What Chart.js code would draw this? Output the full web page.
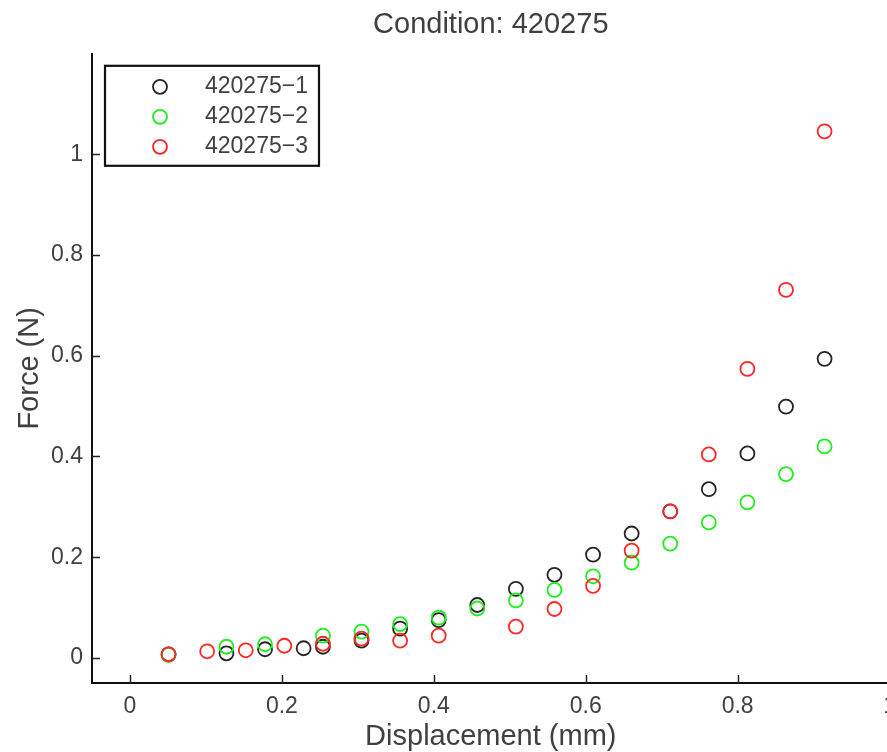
<!DOCTYPE html>
<html>
<head>
<meta charset="utf-8">
<title>Condition: 420275</title>
<script src="https://cdn.jsdelivr.net/npm/chart.js@4.4.1/dist/chart.umd.min.js"></script>
<style>
  html, body { margin: 0; padding: 0; background: #fff; overflow: hidden; }
  #wrap { width: 906px; height: 752px; }
</style>
</head>
<body>
<div id="wrap"><canvas id="chart"></canvas></div>
<script>
// tick positions on both axes
const xTicks = [0, 0.2, 0.4, 0.6, 0.8, 1];
const yTicks = [0, 0.2, 0.4, 0.6, 0.8, 1];

// 420275-1 (black)
const disp1  = [0.0508, 0.127, 0.1778, 0.2286, 0.254, 0.3048, 0.3556, 0.4064, 0.4572, 0.508, 0.5588, 0.6096, 0.6604, 0.7112, 0.762, 0.8128, 0.8636, 0.9144];
const force1 = [0.007, 0.009, 0.017, 0.019, 0.022, 0.034, 0.058, 0.075, 0.105, 0.137, 0.165, 0.205, 0.247, 0.291, 0.335, 0.406, 0.499, 0.594];

// 420275-2 (green)
const disp2  = [0.0508, 0.127, 0.1778, 0.254, 0.3048, 0.3556, 0.4064, 0.4572, 0.508, 0.5588, 0.6096, 0.6604, 0.7112, 0.762, 0.8128, 0.8636, 0.9144];
const force2 = [0.006, 0.022, 0.027, 0.044, 0.052, 0.067, 0.080, 0.098, 0.114, 0.135, 0.162, 0.189, 0.227, 0.269, 0.309, 0.365, 0.420];

// 420275-3 (red)
const disp3  = [0.0508, 0.1016, 0.1524, 0.2032, 0.254, 0.3048, 0.3556, 0.4064, 0.508, 0.5588, 0.6096, 0.6604, 0.7112, 0.762, 0.8128, 0.8636, 0.9144];
const force3 = [0.007, 0.013, 0.015, 0.024, 0.028, 0.038, 0.034, 0.044, 0.062, 0.097, 0.143, 0.213, 0.291, 0.404, 0.574, 0.731, 1.046];

const labels = ['420275-1', '420275-2', '420275-3'];
const colors = ['#252525', '#1fee1f', '#ff2626'];

const FONT = '"Liberation Sans", Arial, Helvetica, sans-serif';
const TEXT = '#404040';

function pts(xs, ys) {
  return xs.map((x, i) => ({ x: x, y: ys[i] }));
}

function serie(i, xs, ys) {
  return {
    label: labels[i],
    data: pts(xs, ys),
    showLine: false,
    pointStyle: 'circle',
    pointRadius: 7,
    pointHoverRadius: 7,
    pointBorderWidth: 1.8,
    pointBorderColor: colors[i],
    pointBackgroundColor: 'rgba(0,0,0,0)',
    borderColor: colors[i],
    backgroundColor: 'rgba(0,0,0,0)',
    order: 3 - i, // later series on top, like MATLAB
  };
}

// MATLAB-style ticks pointing into the plot
const innerTicks = {
  id: 'innerTicks',
  afterDatasetsDraw(chart) {
    const { ctx, chartArea, scales } = chart;
    ctx.save();
    ctx.strokeStyle = '#222';
    ctx.lineWidth = 1.5;
    ctx.beginPath();
    xTicks.forEach(v => {
      const px = Math.round(scales.x.getPixelForValue(v)) + 0.5;
      ctx.moveTo(px, chartArea.bottom);
      ctx.lineTo(px, chartArea.bottom - 8);
    });
    yTicks.forEach(v => {
      const py = Math.round(scales.y.getPixelForValue(v)) + 0.5;
      ctx.moveTo(chartArea.left, py);
      ctx.lineTo(chartArea.left + 8, py);
    });
    ctx.stroke();
    ctx.restore();
  }
};

// boxed legend in the upper left corner
const boxLegend = {
  id: 'boxLegend',
  afterDraw(chart) {
    const { ctx, chartArea } = chart;
    const bx = chartArea.left + 13, by = chartArea.top + 12;
    const bw = 214, bh = 100;
    ctx.save();
    ctx.fillStyle = '#fff';
    ctx.fillRect(bx, by, bw, bh);
    ctx.strokeStyle = '#111';
    ctx.lineWidth = 2.2;
    ctx.strokeRect(bx, by, bw, bh);
    ctx.font = '23px ' + FONT;
    ctx.textBaseline = 'middle';
    chart.data.datasets.forEach((ds, i) => {
      const cy = by + 21 + i * 30;
      ctx.beginPath();
      ctx.arc(bx + 55, cy, 7, 0, Math.PI * 2);
      ctx.strokeStyle = ds.pointBorderColor;
      ctx.lineWidth = 1.8;
      ctx.stroke();
      ctx.fillStyle = TEXT;
      ctx.textAlign = 'left';
      ctx.fillText(ds.label.replace('-', '\u2212'), bx + 100, cy);
    });
    ctx.restore();
  }
};

new Chart(document.getElementById('chart'), {
  type: 'scatter',
  data: {
    datasets: [
      serie(0, disp1, force1),
      serie(1, disp2, force2),
      serie(2, disp3, force3),
    ],
  },
  options: {
    responsive: true,
    maintainAspectRatio: false,
    animation: false,
    events: [],
    layout: { padding: 0 },
    plugins: {
      legend: { display: false },
      tooltip: { enabled: false },
      title: {
        display: true,
        fullSize: false, // centre over the plot area, not the canvas
        text: 'Condition: 420275',
        color: TEXT,
        font: { family: FONT, size: 29, weight: 'normal' },
        padding: { top: 8, bottom: 11 },
      },
    },
    scales: {
      x: {
        type: 'linear',
        min: -0.05,
        max: 1,
        afterBuildTicks: s => { s.ticks = xTicks.map(v => ({ value: v })); },
        afterFit: s => { s.height = 69; },
        grid: { display: true, drawOnChartArea: false, drawTicks: false },
        border: { display: true, color: '#111', width: 2 },
        ticks: {
          color: TEXT,
          padding: 10,
          font: { family: FONT, size: 23 },
          callback: v => String(Math.round(v * 10) / 10),
        },
        title: {
          display: true,
          text: 'Displacement (mm)',
          color: TEXT,
          font: { family: FONT, size: 29 },
          padding: { top: 0, bottom: -2 },
        },
      },
      y: {
        type: 'linear',
        min: -0.05,
        max: 1.2,
        afterBuildTicks: s => { s.ticks = yTicks.map(v => ({ value: v })); },
        afterFit: s => { s.width = 92; },
        grid: { display: true, drawOnChartArea: false, drawTicks: false },
        border: { display: true, color: '#111', width: 2 },
        ticks: {
          color: TEXT,
          padding: 9,
          font: { family: FONT, size: 23 },
          callback: v => String(Math.round(v * 10) / 10),
        },
        title: {
          display: true,
          text: 'Force (N)',
          color: TEXT,
          font: { family: FONT, size: 29 },
          padding: { top: 13, bottom: 0 },
        },
      },
    },
  },
  plugins: [innerTicks, boxLegend],
});
</script>
</body>
</html>
